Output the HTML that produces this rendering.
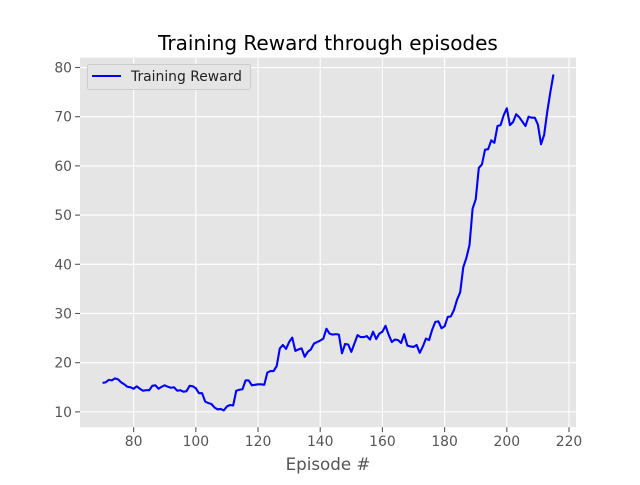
<!DOCTYPE html>
<html><head><meta charset="utf-8"><style>
body{margin:0;background:#fff}
svg text{font-family:"DejaVu Sans","Liberation Sans",sans-serif}
</style></head><body>
<svg id="chart" width="640" height="480" viewBox="0 0 640 480" xmlns="http://www.w3.org/2000/svg">
<rect width="640" height="480" fill="#fff"/>
<rect x="80" y="57.6" width="496" height="369.6" fill="#e5e5e5"/>
<g id="grid"></g>
<g id="ticks"></g>
<path id="line" fill="none" stroke="#0000ff" stroke-width="2.1" stroke-linejoin="round"/>
<text x="328" y="50" font-size="20" text-anchor="middle" fill="#000">Training Reward through episodes</text>
<text x="328" y="470" font-size="16.7" text-anchor="middle" fill="#555">Episode #</text>
<g>
<rect x="87.5" y="64.5" width="163" height="25" rx="2" fill="#e5e5e5" stroke="#ccc" stroke-width="1"/>
<line x1="92" y1="76" x2="121" y2="76" stroke="#0000ff" stroke-width="2.1"/>
<text x="131" y="81" font-size="13.9" fill="#222">Training Reward</text>
</g>
</svg>
<script>
const xStart = 70;
const rewards = [15.9,16.0,16.5,16.4,16.8,16.6,16.0,15.6,15.1,15.0,14.7,
15.2,14.7,14.3,14.4,14.4,15.3,15.4,14.7,15.1,15.4,
15.1,14.9,15.0,14.3,14.4,14.1,14.2,15.3,15.2,14.8,
13.8,13.8,12.1,11.8,11.6,10.9,10.5,10.6,10.3,11.1,
11.4,11.3,14.3,14.5,14.6,16.4,16.4,15.4,15.5,15.6,
15.6,15.5,18.0,18.3,18.3,19.3,22.9,23.6,22.8,24.2,
25.1,22.4,22.7,22.9,21.2,22.2,22.7,23.9,24.2,24.5,
24.9,26.9,25.9,25.7,25.8,25.7,21.9,23.8,23.7,22.2,
23.9,25.6,25.2,25.2,25.4,24.7,26.3,24.8,25.9,26.3,
27.5,25.7,24.2,24.7,24.6,24.0,25.8,23.5,23.3,23.2,
23.6,22.0,23.3,24.9,24.6,26.7,28.3,28.4,27.0,27.4,
29.3,29.4,30.7,32.8,34.3,39.4,41.3,43.9,51.3,53.2,
59.6,60.3,63.3,63.4,65.2,64.7,68.1,68.3,70.3,71.7,
68.3,68.9,70.5,69.9,69.0,68.1,70.0,69.8,69.8,68.4,
64.4,66.3,71.0,75.0,78.6];
const xTicks = [80,100,120,140,160,180,200,220];
const yTicks = [10,20,30,40,50,60,70,80];

const L=80,R=576,T=57.6,B=427.2;
const n=rewards.length, xEnd=xStart+n-1;
const xPad=(xEnd-xStart)*0.05;
const yMin=Math.min(...rewards), yMax=Math.max(...rewards), yPad=(yMax-yMin)*0.05;
const x0=xStart-xPad, x1=xEnd+xPad, y0=yMin-yPad, y1=yMax+yPad;
const sx=v=>L+(v-x0)/(x1-x0)*(R-L);
const sy=v=>B-(v-y0)/(y1-y0)*(B-T);
const NS='http://www.w3.org/2000/svg';
const grid=document.getElementById('grid'), ticks=document.getElementById('ticks');
function mk(tag,attrs,parent){const e=document.createElementNS(NS,tag);for(const k in attrs)e.setAttribute(k,attrs[k]);parent.appendChild(e);return e;}
xTicks.forEach(v=>{
  const x=sx(v);
  const g=mk('line',{x1:x,x2:x,y1:T,y2:B,stroke:'#fff','stroke-width':1.1},grid);
  
  
  const t=mk('line',{x1:x,x2:x,y1:B,y2:B+4.9,stroke:'#555','stroke-width':1.1},ticks);
  
  
  const l=mk('text',{x:x,y:B+19,'font-size':13.9,'text-anchor':'middle',fill:'#555'},ticks);
  l.textContent=v;
  
  
});
yTicks.forEach(v=>{
  const y=sy(v);
  const g=mk('line',{x1:L,x2:R,y1:y,y2:y,stroke:'#fff','stroke-width':1.1},grid);
  
  
  const t=mk('line',{x1:L-4.9,x2:L,y1:y,y2:y,stroke:'#555','stroke-width':1.1},ticks);
  
  
  const l=mk('text',{x:L-8,y:y+5,'font-size':13.9,'text-anchor':'end',fill:'#555'},ticks);
  l.textContent=v;
  
  
});
document.getElementById('line').setAttribute('d',rewards.map((v,i)=>(i?'L':'M')+sx(xStart+i).toFixed(2)+' '+sy(v).toFixed(2)).join(''));
</script>
</body></html>
